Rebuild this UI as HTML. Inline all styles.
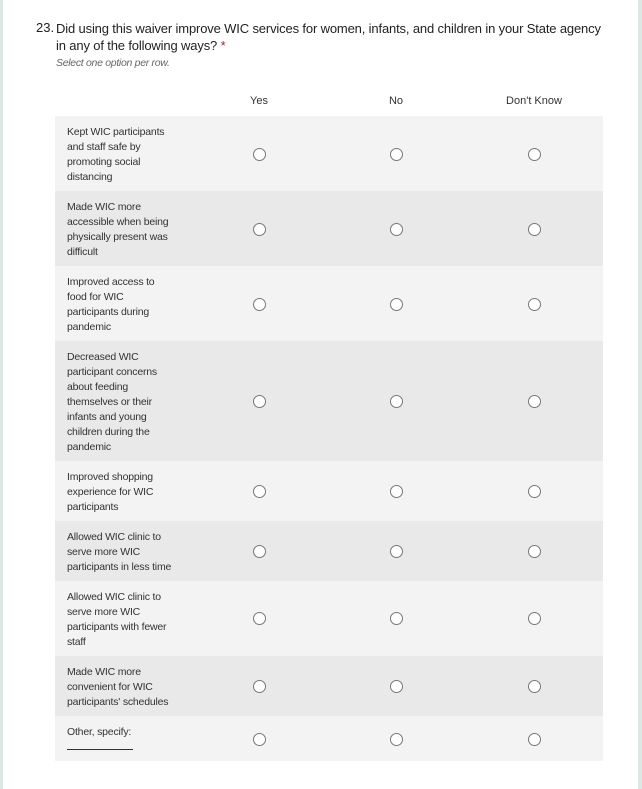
<!DOCTYPE html>
<html><head><style>
body{margin:0;width:642px;height:789px;background:#fff;position:relative;overflow:hidden;font-family:"Liberation Sans",sans-serif;color:#333}
.bl{position:absolute;left:0;top:0;width:3px;height:789px;background:#dde8e5}
.br{position:absolute;left:638px;top:0;width:4px;height:789px;background:#dde8e5}
.num{position:absolute;left:36px;top:20px;font-size:13px;color:#222}
.q{position:absolute;left:56px;top:20px;font-size:13px;line-height:17px;color:#222;width:580px}
.q div{white-space:nowrap;letter-spacing:-0.15px}
.q span{color:#a4262c}
.sub{position:absolute;left:56px;top:57px;font-size:10.5px;font-style:italic;color:#666;letter-spacing:-0.3px}
.h{position:absolute;top:95px;font-size:11px;transform:translateX(-50%);color:#333}
.row{position:absolute;left:55px;width:548px}
.row .t{position:absolute;left:12px;top:9px;width:110px;font-size:10.5px;line-height:15px;color:#333;letter-spacing:-0.2px}
.r{position:absolute;width:11px;height:11px;border:1.3px solid #777;border-radius:50%;background:#fff;box-sizing:content-box}
</style></head><body>
<div class="bl"></div><div class="br"></div>
<div class="num">23.</div>
<div class="q"><div>Did using this waiver improve WIC services for women, infants, and children in your State agency</div><div>in any of the following ways? <span>*</span></div></div>
<div class="sub">Select one option per row.</div>
<div class="h" style="left:259px">Yes</div>
<div class="h" style="left:396px">No</div>
<div class="h" style="left:534px">Don't Know</div>

<div class="row" style="top:116px;height:75px;background:#f3f3f3"><div class="t">Kept WIC participants and staff safe by promoting social distancing</div></div>
<div class="row" style="top:191px;height:75px;background:#e9e9e9"><div class="t">Made WIC more accessible when being physically present was difficult</div></div>
<div class="row" style="top:266px;height:75px;background:#f3f3f3"><div class="t">Improved access to<br>food for WIC participants during pandemic</div></div>
<div class="row" style="top:341px;height:120px;background:#e9e9e9"><div class="t">Decreased WIC participant concerns about feeding themselves or their infants and young children during the pandemic</div></div>
<div class="row" style="top:461px;height:60px;background:#f3f3f3"><div class="t">Improved shopping experience for WIC participants</div></div>
<div class="row" style="top:521px;height:60px;background:#e9e9e9"><div class="t">Allowed WIC clinic to serve more WIC participants in less time</div></div>
<div class="row" style="top:581px;height:75px;background:#f3f3f3"><div class="t">Allowed WIC clinic to serve more WIC participants with fewer staff</div></div>
<div class="row" style="top:656px;height:60px;background:#e9e9e9"><div class="t">Made WIC more convenient for WIC participants' schedules</div></div>
<div class="row" style="top:716px;height:45px;background:#f3f3f3"><div class="t">Other, specify:<div style="width:66px;border-bottom:1px solid #333;height:9px"></div></div></div>

<div id="radios"></div>
<script>
var ys=[154,229,304,401,491,551,618,686,739],xs=[259,396,534],h='';
ys.forEach(function(y){xs.forEach(function(x){h+='<div class="r" style="left:'+(x-6.5)+'px;top:'+(y-6.5)+'px"></div>';});});
document.getElementById('radios').innerHTML=h;
</script>
</body></html>
